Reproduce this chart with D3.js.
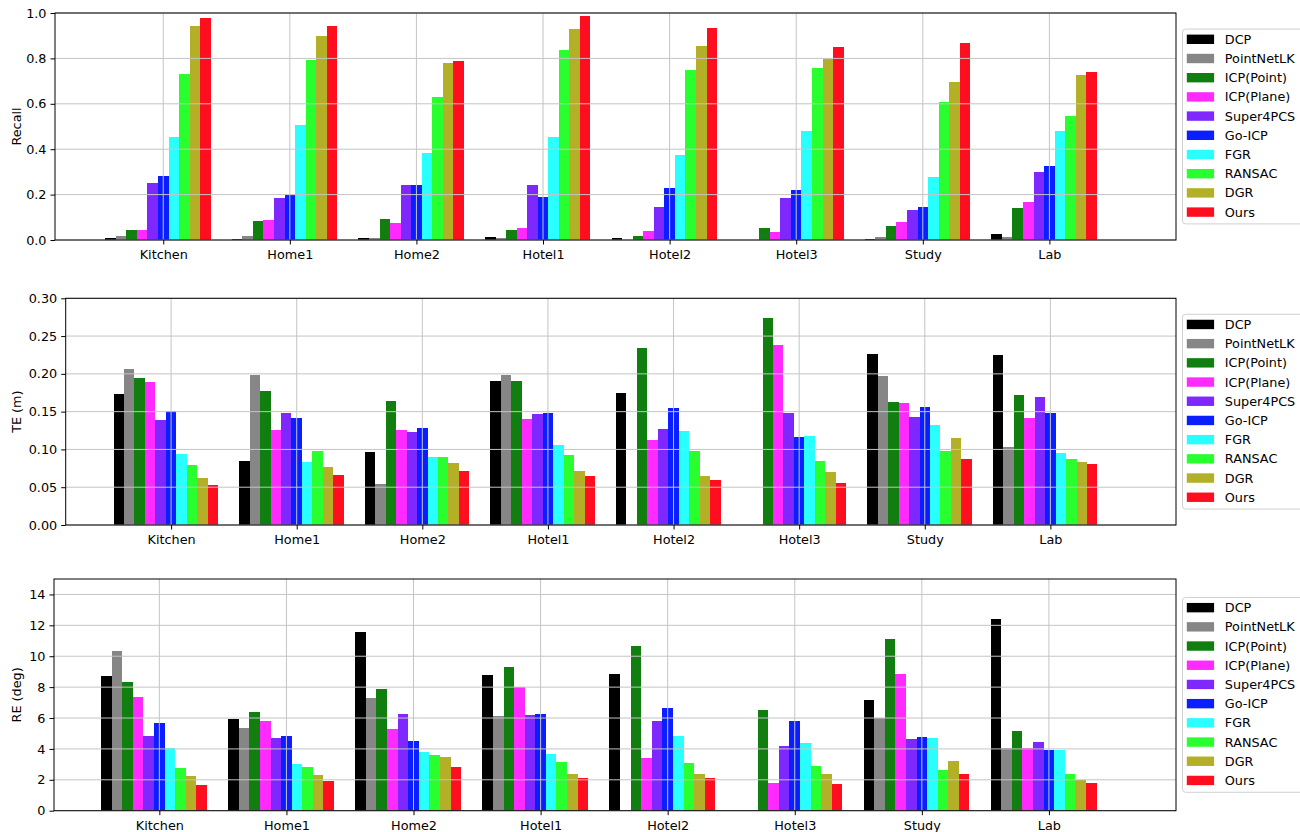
<!DOCTYPE html>
<html>
<head>
<meta charset="utf-8">
<script src="https://cdn.jsdelivr.net/npm/d3@7"></script>
<style>
  body { margin: 0; background: #fff; }
  svg { display: block; font-family: "DejaVu Sans", sans-serif; }
</style>
</head>
<body>
<svg id="chart" width="1300" height="832"></svg>
<script>
// scenes on the x axis
const scenes = ['Kitchen', 'Home1', 'Home2', 'Hotel1', 'Hotel2', 'Hotel3', 'Study', 'Lab'];

// methods (legend order) and their bar colours
const methods = ['DCP', 'PointNetLK', 'ICP(Point)', 'ICP(Plane)', 'Super4PCS', 'Go-ICP', 'FGR', 'RANSAC', 'DGR', 'Ours'];
const colors = ['#000000', '#868686', '#107f10', '#ff2aff', '#7f27ff', '#0a1eff', '#2affff', '#29ff2e', '#b3af27', '#ff0e1f'];

// one row per method, one value per scene
const recall = [
  [0.009, 0.004, 0.009, 0.013, 0.009, 0.000, 0.004, 0.026],
  [0.018, 0.018, 0.009, 0.009, 0.000, 0.000, 0.013, 0.013],
  [0.044, 0.084, 0.093, 0.044, 0.018, 0.053, 0.062, 0.141],
  [0.044, 0.088, 0.075, 0.053, 0.040, 0.035, 0.079, 0.168],
  [0.251, 0.185, 0.243, 0.243, 0.146, 0.185, 0.132, 0.300],
  [0.282, 0.199, 0.243, 0.190, 0.229, 0.221, 0.146, 0.326],
  [0.454, 0.507, 0.384, 0.454, 0.375, 0.481, 0.278, 0.481],
  [0.732, 0.794, 0.631, 0.838, 0.750, 0.759, 0.609, 0.547],
  [0.944, 0.900, 0.781, 0.931, 0.856, 0.799, 0.697, 0.728],
  [0.979, 0.944, 0.790, 0.988, 0.935, 0.851, 0.869, 0.741]
];

const te = [
  [0.173, 0.085, 0.097, 0.191, 0.175, 0.000, 0.226, 0.225],
  [0.207, 0.199, 0.054, 0.199, 0.000, 0.000, 0.197, 0.103],
  [0.195, 0.177, 0.164, 0.191, 0.234, 0.274, 0.163, 0.172],
  [0.189, 0.126, 0.126, 0.140, 0.113, 0.238, 0.162, 0.142],
  [0.139, 0.148, 0.123, 0.147, 0.127, 0.148, 0.143, 0.169],
  [0.151, 0.142, 0.128, 0.148, 0.155, 0.117, 0.156, 0.148],
  [0.094, 0.083, 0.090, 0.106, 0.124, 0.118, 0.132, 0.095],
  [0.079, 0.098, 0.090, 0.093, 0.098, 0.085, 0.098, 0.087],
  [0.062, 0.077, 0.082, 0.072, 0.065, 0.070, 0.115, 0.083],
  [0.053, 0.066, 0.072, 0.065, 0.060, 0.056, 0.087, 0.081]
];

const re = [
  [8.71, 5.93, 11.56, 8.78, 8.84, 0.00, 7.16, 12.40],
  [10.33, 5.35, 7.29, 6.13, 0.00, 0.00, 6.00, 4.06],
  [8.33, 6.38, 7.87, 9.30, 10.66, 6.51, 11.11, 5.16],
  [7.36, 5.80, 5.28, 7.98, 3.41, 1.79, 8.84, 4.06],
  [4.83, 4.70, 6.26, 6.19, 5.80, 4.18, 4.64, 4.44],
  [5.67, 4.83, 4.51, 6.26, 6.64, 5.80, 4.77, 3.93],
  [4.06, 3.02, 3.80, 3.67, 4.83, 4.38, 4.70, 3.93],
  [2.76, 2.83, 3.60, 3.15, 3.08, 2.89, 2.63, 2.37],
  [2.24, 2.31, 3.47, 2.37, 2.37, 2.37, 3.21, 1.98],
  [1.66, 1.92, 2.83, 2.11, 2.11, 1.73, 2.37, 1.79]
];

const recallTicks = [0, 0.2, 0.4, 0.6, 0.8, 1.0];
const teTicks = [0, 0.05, 0.10, 0.15, 0.20, 0.25, 0.30];
const reTicks = [0, 2, 4, 6, 8, 10, 12, 14];

// panel layout
const panels = [
  { values: recall, label: 'Recall', ymax: 1.0, ticks: recallTicks, fmt: d3.format('.1f'),
    left: 55, top: 13, bottom: 240, xmin: -0.855 },
  { values: te, label: 'TE (m)', ymax: 0.30, ticks: teTicks, fmt: d3.format('.2f'),
    left: 65.7, top: 298.3, bottom: 525, xmin: -0.839 },
  { values: re, label: 'RE (deg)', ymax: 15, ticks: reTicks, fmt: d3.format('d'),
    left: 54, top: 579, bottom: 810.7, xmin: -0.829 }
];

const right = 1176;
const barW = 1 / 12;
const fontSize = '12.8px';
const gridColor = '#c4c4c4';

const svg = d3.select('#chart');

panels.forEach(p => {
  const x = d3.scaleLinear().domain([p.xmin, 8]).range([p.left, right]);
  const y = d3.scaleLinear().domain([0, p.ymax]).range([p.bottom, p.top]);
  const g = svg.append('g');

  // bars: method j sits at scene i + (j - 5) * barW
  methods.forEach((m, j) => {
    g.append('g')
      .attr('fill', colors[j])
      .selectAll('rect')
      .data(p.values[j])
      .join('rect')
      .attr('x', (d, i) => x(i + (j - 5.5) * barW))
      .attr('width', x(barW) - x(0))
      .attr('y', d => y(d))
      .attr('height', d => y(0) - y(d))
      .attr('shape-rendering', 'crispEdges');
  });

  // grid (drawn above the bars)
  const grid = g.append('g').attr('stroke', gridColor).attr('stroke-width', 1);
  grid.selectAll('.hg')
    .data(p.ticks)
    .join('line')
    .attr('x1', p.left).attr('x2', right)
    .attr('y1', d => y(d)).attr('y2', d => y(d));
  grid.selectAll('.vg')
    .data(scenes)
    .join('line')
    .attr('x1', (d, i) => x(i)).attr('x2', (d, i) => x(i))
    .attr('y1', p.top).attr('y2', p.bottom);

  // axes
  const yAxis = g.append('g')
    .attr('transform', `translate(${p.left},0)`)
    .call(d3.axisLeft(y).tickValues(p.ticks).tickFormat(p.fmt).tickSize(4.5).tickPadding(4));
  const xAxis = g.append('g')
    .attr('transform', `translate(0,${p.bottom})`)
    .call(d3.axisBottom(x).tickValues(d3.range(scenes.length)).tickFormat(i => scenes[i]).tickSize(4.5).tickPadding(5.5));
  [yAxis, xAxis].forEach(a => {
    a.select('.domain').remove();
    a.selectAll('text').style('font-size', fontSize).attr('fill', '#000')
      .style('font-family', '"DejaVu Sans", sans-serif');
    a.selectAll('line').attr('stroke', '#000');
  });

  // spines
  g.append('rect')
    .attr('x', p.left).attr('y', p.top)
    .attr('width', right - p.left).attr('height', p.bottom - p.top)
    .attr('fill', 'none').attr('stroke', '#000').attr('stroke-width', 1);

  // y label
  g.append('text')
    .attr('transform', `translate(20.5,${(p.top + p.bottom) / 2}) rotate(-90)`)
    .attr('text-anchor', 'middle')
    .style('font-size', fontSize)
    .text(p.label);

  // legend, centred on the panel, right of the axes
  const cy = (p.top + p.bottom) / 2;
  const rowH = 19.2;
  const legend = g.append('g').attr('transform', `translate(1182.5,${cy - 97.4})`);
  legend.append('rect')
    .attr('width', 140).attr('height', 194.8)
    .attr('rx', 3)
    .attr('fill', '#fff').attr('stroke', '#d0d0d0');
  methods.forEach((m, j) => {
    const row = legend.append('g').attr('transform', `translate(0,${10.2 + j * rowH})`);
    row.append('rect')
      .attr('x', 4.3).attr('y', -4.7)
      .attr('width', 27.3).attr('height', 9.4)
      .attr('fill', colors[j]);
    row.append('text')
      .attr('x', 42.3).attr('dy', '0.35em')
      .style('font-size', fontSize)
      .text(m);
  });
});
</script>
</body>
</html>
